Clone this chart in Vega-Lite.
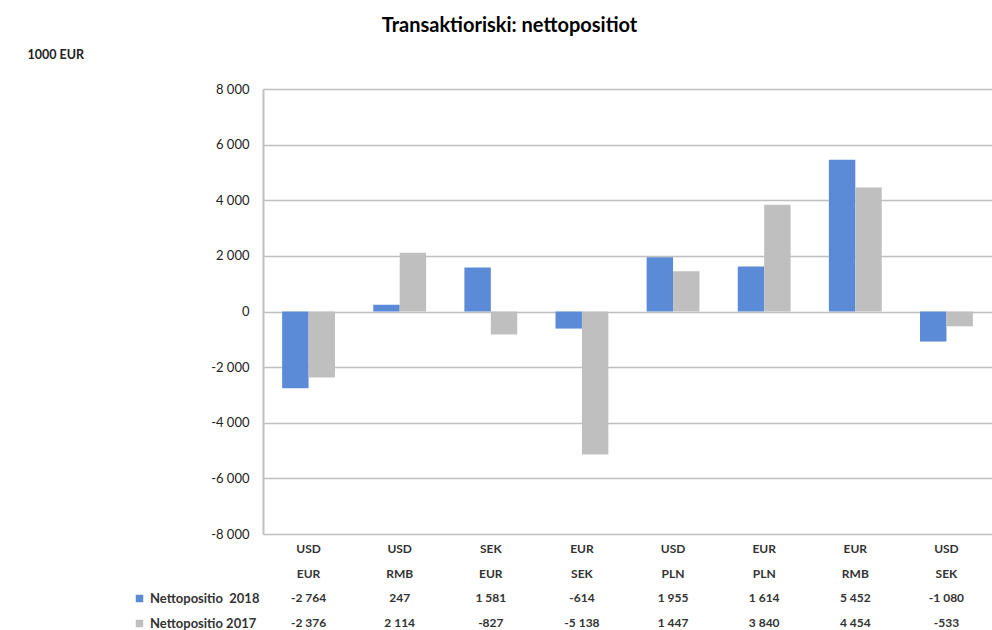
{
  "$schema": "https://vega.github.io/schema/vega-lite/v6.json",
  "padding": {"left": 27, "top": 16, "right": 0, "bottom": 0},
  "title": {"text": "Transaktioriski: nettopositiot", "fontSize": 20, "font": "Lato", "fontWeight": "bold", "color": "#000000", "anchor": "middle", "offset": 12},
  "config": {
    "locale": {"number": {"decimal": ",", "thousands": " ", "grouping": [3], "currency": ["", " €"], "minus": "-"}},
    "view": {"stroke": null},
    "font": "Lato"
  },
  "datasets": {
    "d": [
      {"pair": "USD/EUR", "c1": "USD", "c2": "EUR", "series": "2018", "value": -2764},
      {"pair": "USD/RMB", "c1": "USD", "c2": "RMB", "series": "2018", "value": 247},
      {"pair": "SEK/EUR", "c1": "SEK", "c2": "EUR", "series": "2018", "value": 1581},
      {"pair": "EUR/SEK", "c1": "EUR", "c2": "SEK", "series": "2018", "value": -614},
      {"pair": "USD/PLN", "c1": "USD", "c2": "PLN", "series": "2018", "value": 1955},
      {"pair": "EUR/PLN", "c1": "EUR", "c2": "PLN", "series": "2018", "value": 1614},
      {"pair": "EUR/RMB", "c1": "EUR", "c2": "RMB", "series": "2018", "value": 5452},
      {"pair": "USD/SEK", "c1": "USD", "c2": "SEK", "series": "2018", "value": -1080},
      {"pair": "USD/EUR", "c1": "USD", "c2": "EUR", "series": "2017", "value": -2376},
      {"pair": "USD/RMB", "c1": "USD", "c2": "RMB", "series": "2017", "value": 2114},
      {"pair": "SEK/EUR", "c1": "SEK", "c2": "EUR", "series": "2017", "value": -827},
      {"pair": "EUR/SEK", "c1": "EUR", "c2": "SEK", "series": "2017", "value": -5138},
      {"pair": "USD/PLN", "c1": "USD", "c2": "PLN", "series": "2017", "value": 1447},
      {"pair": "EUR/PLN", "c1": "EUR", "c2": "PLN", "series": "2017", "value": 3840},
      {"pair": "EUR/RMB", "c1": "EUR", "c2": "RMB", "series": "2017", "value": 4454},
      {"pair": "USD/SEK", "c1": "USD", "c2": "SEK", "series": "2017", "value": -533}
    ]
  },
  "data": {"name": "d"},
  "spacing": 0,
  "resolve": {"legend": {"color": "independent"}},
  "vconcat": [
    {
      "width": 729,
      "height": 445,
      "mark": {"type": "bar"},
      "encoding": {
        "x": {"field": "pair", "type": "nominal", "sort": null, "scale": {"paddingInner": 0.42, "paddingOuter": 0.21}, "axis": null},
        "xOffset": {"field": "series", "type": "nominal", "scale": {"domain": ["2018", "2017"]}},
        "y": {
          "field": "value", "type": "quantitative",
          "scale": {"domain": [-8000, 8000], "nice": false},
          "axis": {
            "title": "1000 EUR", "titleAngle": 0, "titleAlign": "left", "titleBaseline": "middle",
            "titleX": -236, "titleY": -35, "titleFontSize": 12.5, "titleFontWeight": "bold", "titleColor": "#222222", "titleFont": "Lato",
            "values": [-8000, -6000, -4000, -2000, 0, 2000, 4000, 6000, 8000],
            "format": ",.0f", "labelFontSize": 13, "labelColor": "#222222", "labelPadding": 14, "labelFont": "Lato",
            "ticks": false, "domainColor": "#bfbfbf", "domainWidth": 2,
            "grid": true, "gridColor": "#bfbfbf", "gridWidth": 1.5
          }
        },
        "color": {"field": "series", "type": "nominal", "scale": {"domain": ["2018", "2017"], "range": ["#5b8bd6", "#bfbfbf"]}, "legend": null}
      }
    },
    {
      "width": 729,
      "height": 90,
      "layer": [
        {
          "transform": [{"filter": "datum.series == '2018'"}],
          "mark": {"type": "text", "fontSize": 12, "fontWeight": "bold", "color": "#333333", "font": "Lato"},
          "encoding": {
            "x": {"field": "pair", "type": "nominal", "sort": null, "scale": {"paddingInner": 0.42, "paddingOuter": 0.21}, "axis": null},
            "y": {"datum": "c1", "type": "nominal", "scale": {"domain": ["c1", "c2", "2018", "2017"], "padding": 0.33}, "axis": null},
            "text": {"field": "c1"}
          }
        },
        {
          "transform": [{"filter": "datum.series == '2018'"}],
          "mark": {"type": "text", "fontSize": 12, "fontWeight": "bold", "color": "#333333", "font": "Lato"},
          "encoding": {
            "x": {"field": "pair", "type": "nominal", "sort": null, "axis": null},
            "y": {"datum": "c2", "type": "nominal", "axis": null},
            "text": {"field": "c2"}
          }
        },
        {
          "mark": {"type": "text", "fontSize": 12, "fontWeight": "bold", "color": "#333333", "font": "Lato"},
          "encoding": {
            "x": {"field": "pair", "type": "nominal", "sort": null, "axis": null},
            "y": {"field": "series", "type": "nominal", "axis": null},
            "text": {"field": "value", "type": "quantitative", "format": ",.0f"}
          }
        },
        {
          "mark": {"type": "square", "opacity": 0},
          "encoding": {
            "x": {"field": "pair", "type": "nominal", "sort": null, "axis": null},
            "y": {"field": "series", "type": "nominal", "axis": null},
            "color": {
              "field": "series", "type": "nominal",
              "scale": {"domain": ["2018", "2017"], "range": ["#5b8bd6", "#bfbfbf"]},
              "legend": {
                "orient": "none", "legendX": -130, "legendY": 51, "title": null,
                "symbolType": "square", "symbolSize": 56, "symbolOpacity": 1, "symbolStrokeWidth": 0,
                "labelExpr": "datum.value == '2018' ? 'Nettopositio\u00a0\u00a02018' : 'Nettopositio 2017'",
                "labelFontSize": 13, "labelFontWeight": "bold", "labelColor": "#333333", "labelFont": "Lato",
                "rowPadding": 11, "labelOffset": 4, "padding": 0
              }
            }
          }
        }
      ]
    }
  ]
}
